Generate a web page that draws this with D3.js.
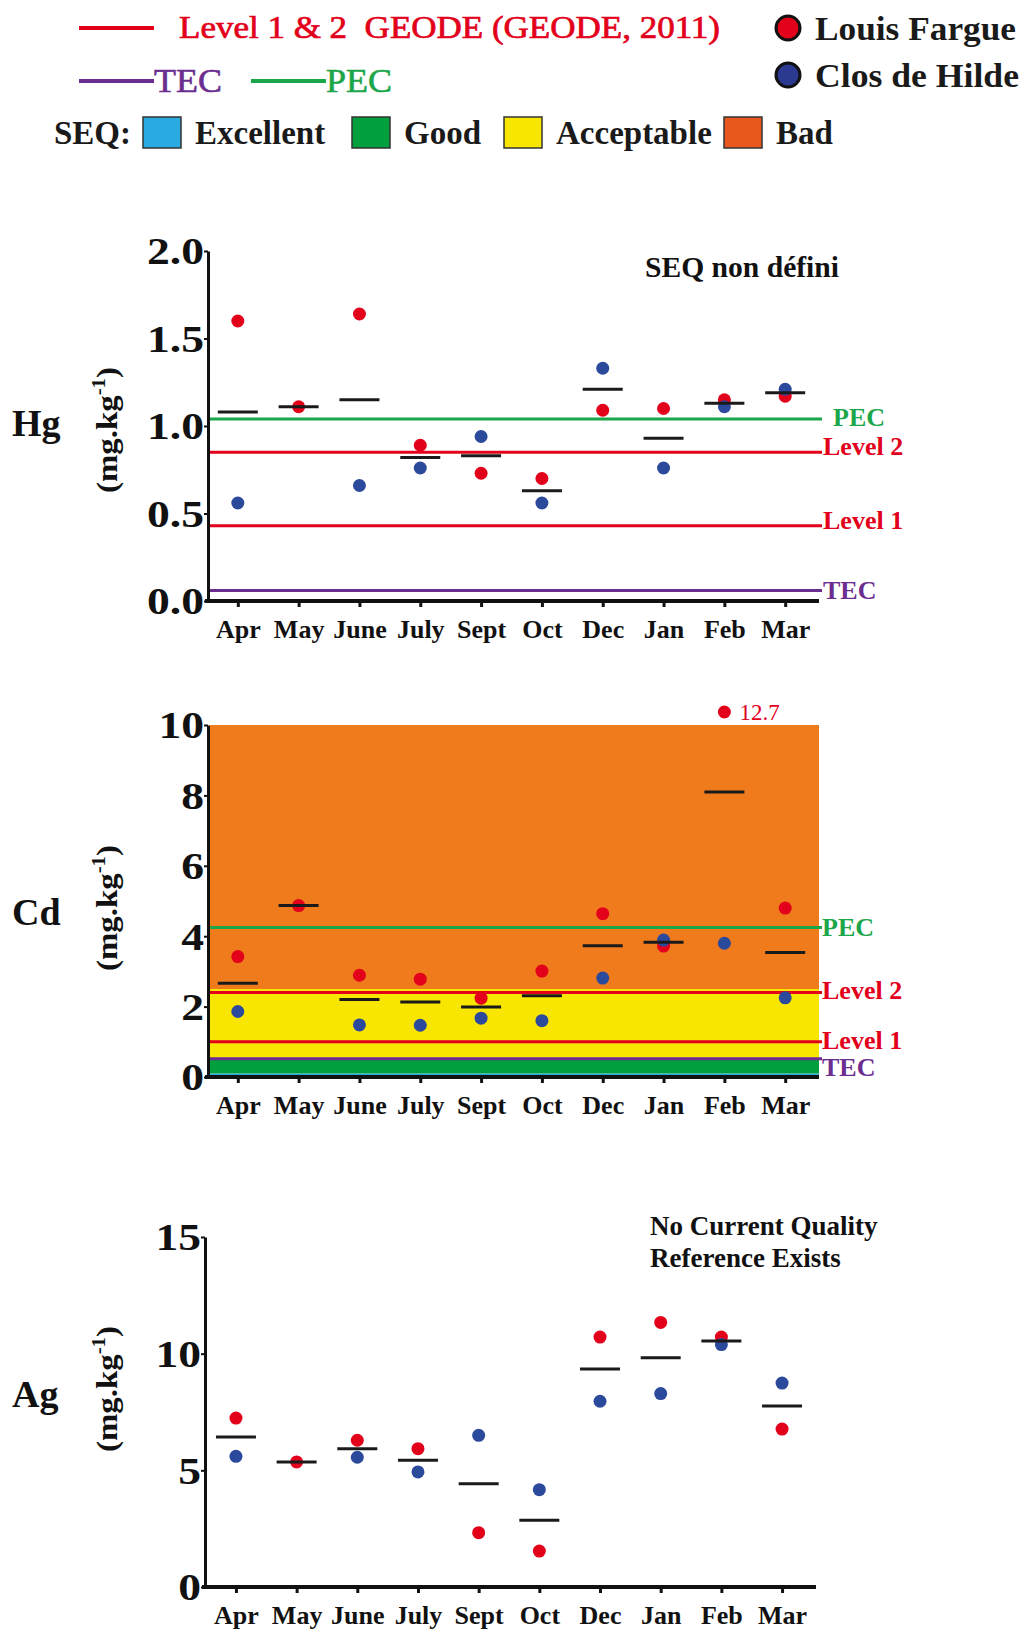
<!DOCTYPE html>
<html>
<head>
<meta charset="utf-8">
<script src="https://cdn.jsdelivr.net/npm/d3@7"></script>
<style>
  html, body { margin: 0; padding: 0; background: #fff; }
  svg { display: block; }
  text { font-family: "Liberation Serif", "Times New Roman", serif; }
</style>
</head>
<body>
<svg id="chart" width="1024" height="1631"></svg>
<script>
// ---------------- DATA ----------------
const months = ["Apr", "May", "June", "July", "Sept", "Oct", "Dec", "Jan", "Feb", "Mar"];

// Hg (mg.kg-1)
const hgLouis = [1.60, 1.11, 1.64, 0.89, 0.73, 0.70, 1.09, 1.10, 1.15, 1.17];
const hgClos  = [0.56, null, 0.66, 0.76, 0.94, 0.56, 1.33, 0.76, 1.11, 1.21];
const hgMean  = [1.08, 1.11, 1.15, 0.82, 0.83, 0.63, 1.21, 0.93, 1.13, 1.19];
const hgTicks = [0, 0.5, 1.0, 1.5, 2.0];
const hgRefNames  = ["PEC", "Level 2", "Level 1", "TEC"];
const hgRefValues = [1.04, 0.85, 0.43, 0.06];

// Cd (mg.kg-1)
const cdLouis = [3.42, 4.87, 2.89, 2.78, 2.24, 3.01, 4.64, 3.72, 12.7, 4.80];
const cdClos  = [1.86, null, 1.48, 1.47, 1.67, 1.60, 2.81, 3.89, 3.80, 2.25];
const cdMean  = [2.66, 4.87, 2.20, 2.13, 1.99, 2.31, 3.73, 3.83, 8.10, 3.54];
const cdTicks = [0, 2, 4, 6, 8, 10];
const cdRefNames  = ["PEC", "Level 2", "Level 1", "TEC"];
const cdRefValues = [4.25, 2.40, 1.00, 0.52];
const cdBandNames = ["Excellent", "Good", "Acceptable", "Bad"];
const cdBandLow   = [0, 0.1, 0.5, 2.5];
const cdBandHigh  = [0.1, 0.5, 2.5, 10];

// Ag (mg.kg-1)
const agLouis = [7.24, 5.36, 6.29, 5.93, 2.33, 1.54, 10.71, 11.34, 10.71, 6.77];
const agClos  = [5.60, null, 5.56, 4.93, 6.50, 4.17, 7.96, 8.29, 10.39, 8.74];
const agMean  = [6.43, 5.36, 5.93, 5.43, 4.43, 2.86, 9.34, 9.83, 10.54, 7.76];
const agTicks = [0, 5, 10, 15];

// legend
const seriesNames = ["Louis Fargue", "Clos de Hilde"];
const seqNames = ["Excellent", "Good", "Acceptable", "Bad"];

// ---------------- STYLE ----------------
const C = {
  red: "#e2001a", blue: "#2c4a9c", legBlue: "#2b3990", mean: "#1a1a1a",
  PEC: "#1ca64a", L: "#e2001a", TEC: "#6b2d8f",
  Excellent: "#29abe2", Good: "#00a03e", Acceptable: "#f8e500", Bad: "#ef7b1d", legBad: "#e8581d"
};
const refColor = n => n === "PEC" ? C.PEC : (n === "TEC" ? C.TEC : C.L);
const TICK_STRETCH = 1.2;

const svg = d3.select("#chart");

// ---------------- LEGEND ----------------
const leg = svg.append("g");
leg.append("line").attr("x1", 79).attr("x2", 154).attr("y1", 28).attr("y2", 28)
  .attr("stroke", C.red).attr("stroke-width", 4);
leg.append("text").attr("x", 179).attr("y", 38).attr("fill", C.red)
  .attr("stroke", C.red).attr("stroke-width", 0.7)
  .attr("font-size", 32).attr("textLength", 541).attr("lengthAdjust", "spacingAndGlyphs")
  .text("Level 1 & 2\u00a0\u00a0GEODE (GEODE, 2011)");
leg.append("line").attr("x1", 79).attr("x2", 154).attr("y1", 81).attr("y2", 81)
  .attr("stroke", C.TEC).attr("stroke-width", 4);
leg.append("text").attr("x", 154).attr("y", 92).attr("fill", C.TEC)
  .attr("stroke", C.TEC).attr("stroke-width", 0.6).attr("font-size", 34)
  .attr("textLength", 68).attr("lengthAdjust", "spacingAndGlyphs").text("TEC");
leg.append("line").attr("x1", 251).attr("x2", 326).attr("y1", 81).attr("y2", 81)
  .attr("stroke", C.PEC).attr("stroke-width", 4);
leg.append("text").attr("x", 326).attr("y", 92).attr("fill", C.PEC)
  .attr("stroke", C.PEC).attr("stroke-width", 0.6).attr("font-size", 34)
  .attr("textLength", 66).attr("lengthAdjust", "spacingAndGlyphs").text("PEC");

const seriesTextLen = [201, 204];
[C.red, C.legBlue].forEach((col, i) => {
  leg.append("circle").attr("cx", 788).attr("cy", 28 + i * 47).attr("r", 12)
    .attr("fill", col).attr("stroke", "#111").attr("stroke-width", 3);
  leg.append("text").attr("x", 815).attr("y", 40 + i * 47).attr("font-size", 33)
    .attr("font-weight", "bold").attr("fill", "#1a1a1a")
    .attr("textLength", seriesTextLen[i]).attr("lengthAdjust", "spacingAndGlyphs").text(seriesNames[i]);
});

leg.append("text").attr("x", 54).attr("y", 144).attr("font-size", 33)
  .attr("font-weight", "bold").attr("fill", "#1a1a1a").text("SEQ:");
const seqBoxX = [143, 352, 504, 724];
const seqCols = [C.Excellent, C.Good, C.Acceptable, C.legBad];
seqNames.forEach((n, i) => {
  leg.append("rect").attr("x", seqBoxX[i]).attr("y", 117).attr("width", 38).attr("height", 31)
    .attr("fill", seqCols[i]).attr("stroke", "#333").attr("stroke-width", 1.5);
  leg.append("text").attr("x", seqBoxX[i] + 52).attr("y", 144).attr("font-size", 33)
    .attr("font-weight", "bold").attr("fill", "#1a1a1a").text(n);
});

// ---------------- PANEL ----------------
function panel(cfg) {
  const g = svg.append("g");
  const x = d3.scalePoint().domain(months).range([cfg.axisX, cfg.scaleEnd]).padding(cfg.pad);
  const y = d3.scaleLinear().domain(cfg.domain).range([cfg.bottom, cfg.top]);

  // bands
  if (cfg.bands) {
    cfg.bands.names.forEach((n, i) => {
      g.append("rect").attr("x", cfg.axisX + 2).attr("width", cfg.xEnd - cfg.axisX - 2)
        .attr("y", y(cfg.bands.high[i])).attr("height", y(cfg.bands.low[i]) - y(cfg.bands.high[i]))
        .attr("fill", C[n]);
    });
  }
  // reference lines
  if (cfg.refs) {
    cfg.refs.names.forEach((n, i) => {
      const yy = y(cfg.refs.values[i]);
      g.append("line").attr("x1", cfg.axisX + 2).attr("x2", cfg.xEnd + 3)
        .attr("y1", yy).attr("y2", yy).attr("stroke", refColor(n)).attr("stroke-width", 3);
      g.append("text").attr("x", cfg.xEnd + 4 + cfg.refs.dx[i]).attr("y", yy + cfg.refs.dy[i] + 9)
        .attr("fill", refColor(n)).attr("font-size", 26).attr("font-weight", "bold").text(n);
    });
  }

  // y axis
  const ya = g.append("g").attr("transform", `translate(${cfg.axisX},0)`)
    .call(d3.axisLeft(y).tickValues(cfg.ticks).tickFormat(cfg.fmt).tickSize(4).tickPadding(0).tickSizeOuter(0));
  ya.select(".domain").attr("stroke", "#111").attr("stroke-width", 3);
  ya.selectAll(".tick line").attr("stroke", "#111").attr("stroke-width", 2);
  ya.selectAll(".tick text").attr("font-family", "Liberation Serif").attr("font-weight", "bold")
    .attr("font-size", 38).attr("fill", "#111").attr("dy", "0.34em")
    .attr("x", -4 / TICK_STRETCH).attr("transform", `scale(${TICK_STRETCH},1)`);

  // x axis
  const xa = g.append("g").attr("transform", `translate(0,${cfg.bottom})`)
    .call(d3.axisBottom(x).tickSize(6).tickPadding(13).tickSizeOuter(0));
  xa.select(".domain").remove();
  xa.selectAll(".tick line").attr("stroke", "#111").attr("stroke-width", 3);
  xa.selectAll(".tick text").attr("font-family", "Liberation Serif").attr("font-weight", "bold")
    .attr("font-size", 26).attr("fill", "#111");
  g.append("line").attr("x1", cfg.axisX - 3).attr("x2", cfg.xEnd).attr("y1", cfg.bottom).attr("y2", cfg.bottom)
    .attr("stroke", "#111").attr("stroke-width", 4);

  // points
  const dots = g.append("g");
  const drawable = v => v !== null && v <= cfg.domain[1];
  months.forEach((m, i) => {
    const v = cfg.louis[i];
    if (v !== null) {
      const yy = v <= cfg.domain[1] ? y(v) : y(cfg.domain[1]) - 13;
      dots.append("circle").attr("cx", x(m)).attr("cy", yy).attr("r", 6.5).attr("fill", C.red);
      if (v > cfg.domain[1]) {
        dots.append("text").attr("x", x(m) + 15).attr("y", yy + 8).attr("font-family", "Lato")
          .attr("font-size", 23).attr("fill", C.red).text(v.toFixed(1));
      }
    }
  });
  months.forEach((m, i) => {
    if (drawable(cfg.clos[i])) dots.append("circle").attr("cx", x(m)).attr("cy", y(cfg.clos[i])).attr("r", 6.5).attr("fill", C.blue);
  });
  months.forEach((m, i) => {
    dots.append("line").attr("x1", x(m) - 20).attr("x2", x(m) + 20)
      .attr("y1", y(cfg.mean[i])).attr("y2", y(cfg.mean[i])).attr("stroke", C.mean).attr("stroke-width", 3);
  });

  // element label + unit
  g.append("text").attr("x", 12).attr("y", cfg.elY + 12).attr("font-size", 38).attr("font-weight", "bold")
    .attr("fill", "#111").text(cfg.el);
  const u = g.append("text").attr("transform", `translate(${cfg.unitX},${cfg.unitY}) rotate(-90)`)
    .attr("text-anchor", "middle").attr("dy", 10).attr("font-size", 30).attr("font-weight", "bold").attr("fill", "#111")
    .attr("textLength", 126).attr("lengthAdjust", "spacingAndGlyphs");
  u.append("tspan").text("(mg.kg");
  u.append("tspan").attr("font-size", 19).attr("dy", -12).text("-1");
  u.append("tspan").attr("dy", 12).text(")");

  if (cfg.note) {
    cfg.note.forEach((t, k) => {
      const tt = g.append("text").attr("x", cfg.noteX).attr("y", cfg.noteY + k * 32).attr("font-size", cfg.noteSize)
        .attr("font-weight", "bold").attr("fill", "#111").text(t);
      if (cfg.noteLen) tt.attr("textLength", cfg.noteLen[k]).attr("lengthAdjust", "spacingAndGlyphs");
    });
  }
  return g;
}

panel({
  el: "Hg", elY: 424, unitX: 107, unitY: 430,
  domain: [0, 2], ticks: hgTicks, fmt: d3.format(".1f"),
  top: 251, bottom: 601, axisX: 208, xEnd: 819, scaleEnd: 815, pad: 0.49,
  louis: hgLouis, clos: hgClos, mean: hgMean,
  refs: { names: hgRefNames, values: hgRefValues, dx: [10, 0, 0, 0], dy: [-2, -6, -6, -1] },
  note: ["SEQ non défini"], noteX: 645, noteY: 277, noteSize: 29, noteLen: [194]
});

panel({
  el: "Cd", elY: 913, unitX: 107, unitY: 908,
  domain: [0, 10], ticks: cdTicks, fmt: d3.format("d"),
  top: 725, bottom: 1077, axisX: 208, xEnd: 819, scaleEnd: 815, pad: 0.49,
  louis: cdLouis, clos: cdClos, mean: cdMean,
  bands: { names: cdBandNames, low: cdBandLow, high: cdBandHigh },
  refs: { names: cdRefNames, values: cdRefValues, dx: [-1, -1, -1, -1], dy: [0, -3, -2, 8] }
});

panel({
  el: "Ag", elY: 1395, unitX: 107, unitY: 1389,
  domain: [0, 15], ticks: agTicks, fmt: d3.format("d"),
  top: 1237, bottom: 1587, axisX: 205, xEnd: 816, scaleEnd: 813, pad: 0.51,
  louis: agLouis, clos: agClos, mean: agMean,
  note: ["No Current Quality", "Reference Exists"], noteX: 650, noteY: 1235, noteSize: 27
});
</script>
</body>
</html>
